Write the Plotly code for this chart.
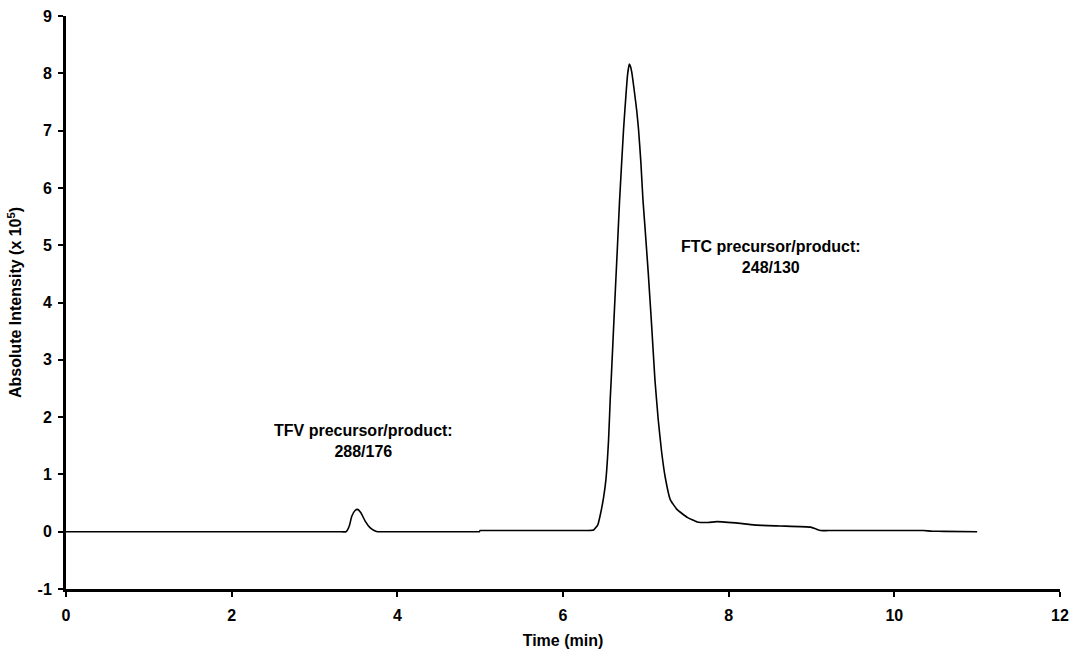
import plotly.graph_objects as go

# Chromatogram trace (time in min, absolute intensity x 10^5)
time_min = [0.0, 1.5, 3.0, 3.3, 3.38, 3.42, 3.45, 3.49, 3.52, 3.56, 3.61, 3.67, 3.72, 3.76,
            3.85, 4.0, 4.9, 4.99, 5.0, 5.1, 5.5, 6.2, 6.30, 6.37, 6.42, 6.457, 6.49, 6.518,
            6.55, 6.57, 6.582, 6.62, 6.658, 6.682, 6.731, 6.76, 6.78, 6.80, 6.815, 6.83,
            6.86, 6.89, 6.912, 6.94, 6.965, 6.993, 7.03, 7.07, 7.11, 7.15, 7.19, 7.234, 7.295,
            7.375, 7.50, 7.62, 7.75, 7.86, 8.14, 8.34, 8.62, 8.99, 9.05, 9.11, 9.2,
            10.25, 10.35, 10.45, 10.6, 11.0]
intensity = [0.0, 0.0, 0.0, 0.0, 0.0, 0.10, 0.27, 0.37, 0.39, 0.33, 0.19, 0.07, 0.02, 0.0,
             0.0, 0.0, 0.0, 0.0, 0.02, 0.02, 0.02, 0.02, 0.02, 0.03, 0.12, 0.34, 0.60, 0.91,
             1.60, 2.31, 2.66, 3.85, 5.00, 5.75, 7.02, 7.62, 7.98, 8.16, 8.12, 8.02,
             7.70, 7.35, 7.02, 6.45, 5.80, 5.25, 4.50, 3.60, 2.65, 1.95, 1.40, 0.95, 0.56,
             0.39, 0.25, 0.17, 0.16, 0.175, 0.145, 0.115, 0.10, 0.08, 0.05, 0.02, 0.02,
             0.02, 0.02, 0.01, 0.005, 0.0]

x_ticks = [0, 2, 4, 6, 8, 10, 12]
x_ticktext = ["0", "2", "4", "6", "8", "10", "12"]
y_ticks = [-1, 0, 1, 2, 3, 4, 5, 6, 7, 8, 9]
y_ticktext = ["-1", "0", "1", "2", "3", "4", "5", "6", "7", "8", "9"]

labels_text = ["TFV precursor/product:<br>288/176", "FTC precursor/product:<br>248/130"]
labels_x = [3.59, 8.51]
labels_y = [1.58, 4.80]

font_family = "Liberation Sans, Arial, sans-serif"
bold16 = dict(family=font_family, size=16, color="black", weight="bold")

fig = go.Figure()
fig.add_trace(go.Scatter(x=time_min, y=intensity, mode="lines",
                         line=dict(color="black", width=1.6, shape="spline", smoothing=0.4),
                         showlegend=False, hoverinfo="skip"))

for t, xv, yv in zip(labels_text, labels_x, labels_y):
    fig.add_annotation(x=xv, y=yv, text=t, showarrow=False, xref="x", yref="y",
                       font=bold16, align="center")

axis_common = dict(showline=True, linewidth=3, linecolor="black", ticks="outside",
                   ticklen=5, tickwidth=2, tickcolor="black", showgrid=False,
                   zeroline=False, mirror=False, tickfont=bold16, automargin=False)

fig.update_layout(
    width=1080, height=658,
    margin=dict(l=66, r=20, t=16, b=69),
    paper_bgcolor="white", plot_bgcolor="white",
    xaxis=dict(range=[0, 12], tickvals=x_ticks, ticktext=x_ticktext,
               ticklabelstandoff=5,
               title=dict(text="Time (min)", standoff=12, font=bold16),
               **axis_common),
    yaxis=dict(range=[-1, 9], tickvals=y_ticks, ticktext=y_ticktext,
               ticklabelstandoff=3,
               title=dict(text="Absolute Intensity (x 10<sup>5</sup>)", standoff=12, font=bold16),
               **axis_common),
)

fig.write_html("out.html")
